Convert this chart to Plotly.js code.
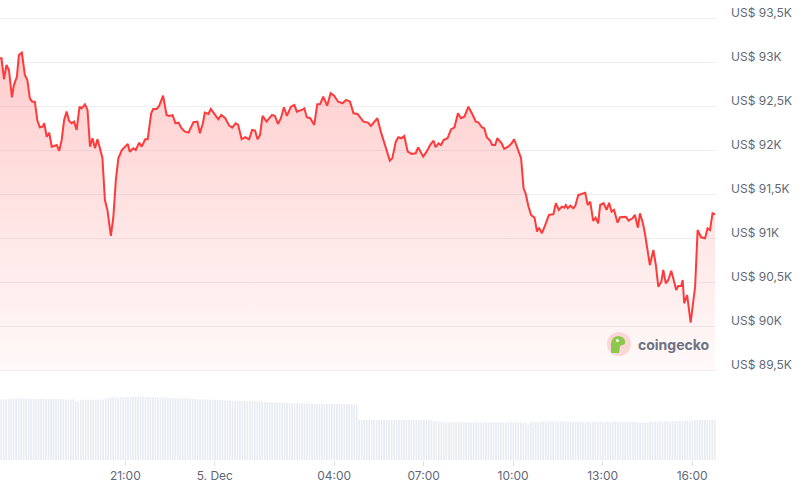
<!DOCTYPE html>
<html><head><meta charset="utf-8">
<script src="https://cdn.plot.ly/plotly-3.0.1.min.js"></script>
<style>html,body{margin:0;padding:0;background:#fff;overflow:hidden}#chart{width:800px;height:488px}</style>
</head><body><div id="chart"></div>
<script>
const startTime = '2025-12-04T16:48:00';
const endTime = '2025-12-05T16:48:00';
const fillBase = 89500;

const priceMinutes = [
0,3,8,13,18,24,28,34,38,44,50,55,60,65,70,75,80,86,89,94,99,104,109,114,119,124,129,134,139,144,149,154,160,164,171,176,181,186,191,196,201,206,211,216,223,228,233,238,
245,251,257,261,268,273,280,285,292,297,304,308,315,320,328,335,340,347,353,359,365,372,379,389,397,402,408,412,419,424,431,439,445,453,461,467,474,
479,486,493,501,507,513,518,523,528,536,547,553,559,565,571,577,585,592,597,607,612,617,624,632,638,644,650,658,665,672,680,689,696,704,711,719,
731,740,746,753,759,766,771,778,784,789,796,801,807,813,820,828,836,841,847,851,858,865,872,876,882,887,892,900,907,914,921,927,934,942,949,957,
962,969,974,979,986,990,996,1000,1009,1014,1022,1029,1034,1041,1048,1053,1057,1063,1068,1075,1080,1084,1090,1096,1104,1113,1118,1124,1130,1135,1138,1142,1147,1153,1157,1163,1170,1177,1182,1187,1193,1198,1203,
1207,1214,1220,1225,1230,1235,1242,1247,1254,1259,1264,1272,1277,1283,1287,1293,1297,1303,1307,1314,1319,1324,1330,1334,1339,1344,1350,1354,1360,1364,1370,1373,1376,1382,1389,1398,1403,1410,1418,1423,1428,1433,1438
];
const prices = [
93042,93042,92804,92966,92909,92599,92739,92833,93080,93106,92852,92796,92587,92549,92549,92341,92258,92265,92304,92151,92197,92038,92046,92057,91989,92114,92341,92436,92330,92304,92322,92228,92492,92474,92520,92455,92038,92133,92020,92122,92020,91906,91432,91319,91023,91242,91660,91906,
92000,92038,92069,91981,92020,92000,92083,92038,92122,92122,92417,92466,92466,92500,92617,92398,92387,92395,92304,92311,92247,92208,92197,92315,92322,92190,92304,92424,92410,92466,92417,92349,92398,92361,92277,92254,92304,
92285,92122,92145,92122,92228,92220,92122,92171,92387,92322,92398,92387,92296,92361,92486,92387,92492,92512,92436,92455,92474,92372,92361,92285,92520,92523,92606,92504,92645,92617,92549,92531,92568,92549,92417,92410,
92322,92311,92273,92322,92361,92208,92114,92008,91879,91906,92095,92145,92133,92160,91981,91955,91963,92031,91955,91924,91981,92057,92106,92031,92076,92057,92114,92133,92235,92258,92417,92361,92379,92492,92417,92322,
92315,92258,92247,92145,92103,92057,92057,92133,92076,92012,92038,92076,92122,92020,91906,91565,91508,91356,91262,91231,91072,91117,91054,91140,91262,91270,91395,91319,91356,91345,91375,91338,91367,91338,91367,91489,91504,91515,91375,91413,91194,91231,91167,
91375,91395,91319,91401,91299,91319,91174,91236,91236,91242,91197,91224,91262,91117,91281,91167,91054,90864,90693,90864,90693,90447,90503,90636,90485,90523,90628,90542,90409,90455,90455,90523,90258,90352,90037,90447,91091,91008,90997,91110,91091,91281,91270
];
// 24h volume (US$ bn), one bar every 5 minutes
const volumes = [
60.5,60.6,60.4,60.7,61.5,61.6,61.4,61.5,61.7,61.6,61.5,61.4,
61.3,61.2,61.0,61.1,61.2,61.0,60.9,61.0,61.1,61.0,60.9,61.0,
60.8,60.9,60.7,60.6,60.5,60.6,58.6,58.4,60.2,60.3,60.4,60.2,
60.1,60.3,60.2,60.4,60.3,60.5,60.9,61.8,62.2,62.4,62.3,62.5,
62.6,62.7,62.8,62.9,63.0,63.2,63.3,63.2,63.3,63.1,63.0,62.9,
63.0,62.8,62.7,62.8,62.6,62.5,62.4,62.2,62.0,61.9,61.8,61.7,
61.8,61.7,61.6,61.7,61.5,61.3,61.0,60.8,60.6,60.5,60.4,60.3,
60.3,60.2,60.3,60.1,60.2,60.0,59.8,59.6,59.4,59.3,59.2,59.1,
59.0,59.1,59.0,58.9,59.0,58.8,58.9,58.8,58.5,58.2,57.9,57.8,
57.7,57.8,57.6,57.7,57.6,57.5,57.2,57.0,56.8,56.7,56.8,56.6,
56.7,56.6,56.5,56.6,56.4,56.3,56.2,56.1,56.0,56.1,56.0,55.9,
56.0,55.9,56.0,55.8,55.9,55.8,55.7,55.8,55.6,55.5,55.6,55.4,
40.0,40.1,40.0,40.2,40.1,40.0,40.1,40.0,40.2,40.1,40.0,39.9,
40.0,40.1,40.0,39.9,40.0,40.1,40.0,40.2,40.0,39.9,40.0,40.1,
40.0,39.9,40.0,40.1,39.8,39.6,39.0,38.6,38.3,38.0,37.8,37.7,
37.8,37.6,37.7,37.8,37.6,37.7,37.6,37.8,37.7,37.6,37.7,37.8,
37.7,37.6,37.8,37.7,37.6,37.7,37.8,37.6,37.7,37.8,37.7,37.6,
37.7,37.8,37.6,37.7,37.8,37.6,37.7,37.6,35.0,38.0,38.2,38.3,
38.3,38.4,38.3,38.5,38.6,38.7,38.5,38.4,38.3,38.6,38.8,38.6,
38.5,38.4,38.3,38.2,38.3,38.4,38.3,38.2,38.3,38.2,38.1,38.3,
38.2,38.3,38.2,38.1,38.3,38.2,38.4,38.3,38.2,38.3,38.1,38.2,
38.3,38.2,38.1,38.2,37.4,37.3,37.2,37.3,37.4,38.1,38.2,38.3,
38.3,38.4,38.3,38.5,38.4,38.6,38.7,38.8,38.9,39.0,39.1,39.3,
39.4,39.6,39.8,40.0,40.1,40.0,40.3,40.2,40.4,40.1,40.5,40.3
];
const volumeStepMinutes = 5;
const priceTicks = [89500,90000,90500,91000,91500,92000,92500,93000,93500];
const priceTickLabels = ['US$ 89,5K','US$ 90K','US$ 90,5K','US$ 91K','US$ 91,5K','US$ 92K','US$ 92,5K','US$ 93K','US$ 93,5K'];
const timeTicks = ['2025-12-04 21:00','2025-12-05 00:00','2025-12-05 04:00','2025-12-05 07:00','2025-12-05 10:00','2025-12-05 13:00','2025-12-05 16:00'];
const timeTickLabels = ['21:00','5. Dec','04:00','07:00','10:00','13:00','16:00'];

const t0 = Date.parse(startTime + 'Z');
function stamp(min){ return new Date(t0 + min*60000).toISOString().slice(0,19).replace('T',' '); }
const priceX = priceMinutes.map(stamp);
const volX = volumes.map((v,i)=>stamp(i*volumeStepMinutes + volumeStepMinutes/2));

const font = 'Inter, "Noto Sans", sans-serif';
const traces = [
  {x:[priceX[0], priceX[priceX.length-1]], y:[fillBase, fillBase], mode:'lines', line:{width:0, color:'rgba(0,0,0,0)'}, hoverinfo:'skip', showlegend:false, xaxis:'x', yaxis:'y'},
  {x:priceX, y:prices, mode:'lines', line:{color:'#ff3a3a', width:2}, fill:'tonexty',
   fillgradient:{type:'vertical', start:89500, stop:93100, colorscale:[[0,'rgba(255,70,70,0.03)'],[1,'rgba(255,70,70,0.27)']]},
   showlegend:false, xaxis:'x', yaxis:'y'},
  {x:volX, y:volumes, type:'bar', marker:{color:'#e9edf2', line:{width:0}}, width:volumeStepMinutes*60000*0.7, showlegend:false, xaxis:'x', yaxis:'y2'}
];

const pxX = p => p/716, pxY = p => 1 - p/460;
const layout = {
  width:800, height:488,
  margin:{l:0, r:84, t:0, b:28},
  paper_bgcolor:'#fff', plot_bgcolor:'rgba(0,0,0,0)',
  font:{family:font, size:12, color:'#5f6877'},
  xaxis:{type:'date', range:[startTime.replace('T',' '), endTime.replace('T',' ')], anchor:'y2',
    tickvals:timeTicks, ticktext:timeTickLabels, ticks:'outside', ticklen:5, tickcolor:'#dde1e7',
    showgrid:false, zeroline:false, showline:false, tickfont:{size:12, color:'#5f6877'}},
  yaxis:{domain:[75/460, 1], range:[89329.5, 93704.5], side:'right', anchor:'x',
    tickvals:priceTicks, ticktext:priceTickLabels, showgrid:true, gridcolor:'#eceff3', gridwidth:1,
    zeroline:false, ticks:'', ticklabelstandoff:14, ticklabelshift:-5, tickfont:{size:12, color:'#5f6877'}},
  yaxis2:{domain:[0, 75/460], range:[0,75], anchor:'x', showticklabels:false, showgrid:false, zeroline:false},
  bargap:0.3,
  shapes:[
    {type:'circle', xref:'paper', yref:'paper', x0:pxX(607), x1:pxX(631), y0:pxY(356), y1:pxY(332), fillcolor:'#fbd6d6', line:{width:0}},
    {type:'path', xref:'paper', yref:'paper', fillcolor:'#8cc84b', line:{width:0},
     path:'M '+pxX(611)+' '+pxY(353)+' L '+pxX(611)+' '+pxY(343)+' Q '+pxX(612)+' '+pxY(336)+' '+pxX(619)+' '+pxY(336)+' Q '+pxX(626)+' '+pxY(337)+' '+pxX(625)+' '+pxY(344)+' L '+pxX(620)+' '+pxY(346)+' L '+pxX(619)+' '+pxY(353)+' Z'},
    {type:'circle', xref:'paper', yref:'paper', x0:pxX(616), x1:pxX(619), y0:pxY(342), y1:pxY(339), fillcolor:'#ffffff', line:{width:0}}
  ],
  annotations:[
    {xref:'paper', yref:'paper', x:pxX(636), y:pxY(344), xanchor:'left', yanchor:'middle', showarrow:false,
     text:'<b>coingecko</b>', font:{family:font, size:14, color:'#6b7383'}}
  ]
};
Plotly.newPlot('chart', traces, layout, {staticPlot:true, displayModeBar:false});
</script></body></html>
